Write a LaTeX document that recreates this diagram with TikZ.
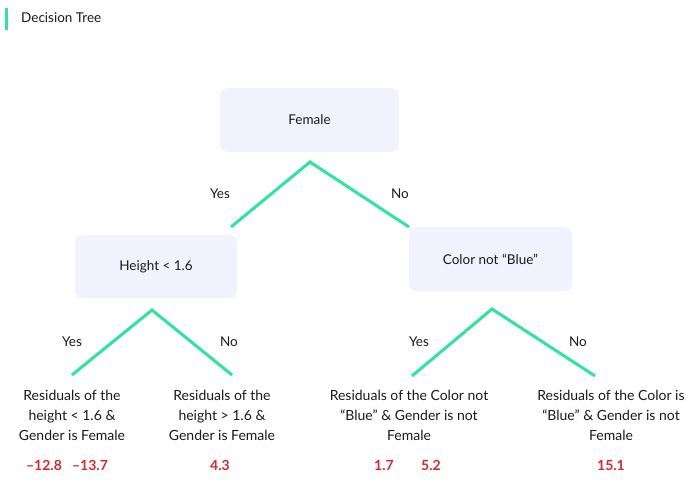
\documentclass[tikz,border=0pt]{standalone}
\usepackage{fontspec}
\setmainfont{Lato}
\definecolor{treegreen}{HTML}{2FE3A3}
\definecolor{boxfill}{HTML}{F1F2FD}
\definecolor{numred}{HTML}{D42A2E}
\definecolor{txt}{HTML}{1A1A1A}
\tikzset{
  decbox/.style={fill=boxfill, rounded corners=8pt, minimum width=162pt, minimum height=63pt, inner sep=0pt, font=\fontsize{13.5}{16}\selectfont, text=txt},
  branch/.style={draw=treegreen, line width=3pt},
  lbl/.style={font=\fontsize{13.5}{16}\selectfont, text=txt, inner sep=0pt},
  leaf/.style={font=\fontsize{14}{20}\selectfont, text=txt, align=center, inner sep=0pt},
  num/.style={font=\bfseries\fontsize{14}{16}\selectfont, text=numred, inner sep=0pt},
}
\begin{document}
\begin{tikzpicture}[x=1pt,y=-1pt]
\useasboundingbox[fill=white] (0,0) rectangle (696,482);
% title
\draw[treegreen, line width=3pt] (6,8) -- (6,30);
\node[lbl, anchor=west] (title) at (21,18) {Decision Tree};
% boxes
\node[decbox, minimum width=179pt, minimum height=64pt] (root) at (309.5,120) {Female};
\node[decbox] (height) at (156,266.5) {Height < 1.6};
\node[decbox, minimum width=163pt, minimum height=64pt] (color) at (490.5,259) {Color not ``Blue''};
% apex coordinates
\coordinate (a0) at (310,162);
\coordinate (a0l) at (231,227);
\coordinate (a0r) at (409,227);
\coordinate (a1) at (152,310);
\coordinate (a1l) at (72,375);
\coordinate (a1r) at (232,375);
\coordinate (a2) at (492,309);
\coordinate (a2l) at (412,376);
\coordinate (a2r) at (595,376);
\draw[branch] (a0l) -- (a0) -- (a0r);
\draw[branch] (a1l) -- (a1) -- (a1r);
\draw[branch] (a2l) -- (a2) -- (a2r);
% branch labels
\node[lbl] (y0) at (220,194) {Yes};
\node[lbl] (n0) at (400,194) {No};
\node[lbl] (y1) at (72,342) {Yes};
\node[lbl] (n1) at (229,342) {No};
\node[lbl] (y2) at (419,342) {Yes};
\node[lbl] (n2) at (578,342) {No};
% leaves
\node[leaf, anchor=north] (leaf1) at (72,390) {Residuals of the\\height < 1.6 \&\\Gender is Female};
\node[leaf, anchor=north] (leaf2) at (222,390) {Residuals of the\\height > 1.6 \&\\Gender is Female};
\node[leaf, anchor=north] (leaf3) at (409,390) {Residuals of the Color not\\``Blue'' \& Gender is not\\Female};
\node[leaf, anchor=north] (leaf4) at (611,390) {Residuals of the Color is\\``Blue'' \& Gender is not\\Female};
% numbers
\node[num] (v1) at (44,465) {–12.8};
\node[num] (v2) at (90,465) {–13.7};
\node[num] (v3) at (220,465) {4.3};
\node[num] (v4) at (384,465) {1.7};
\node[num] (v5) at (431,465) {5.2};
\node[num] (v6) at (611,465) {15.1};
\end{tikzpicture}
\end{document}
